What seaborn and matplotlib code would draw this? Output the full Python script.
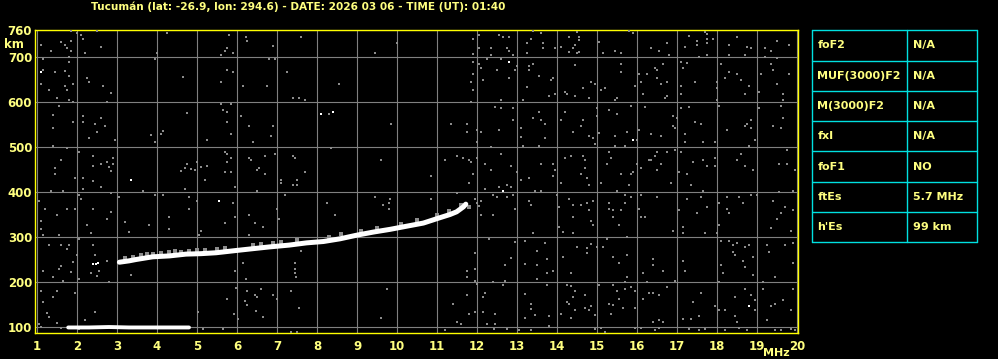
import matplotlib
matplotlib.use("Agg")
import matplotlib.pyplot as plt
import seaborn as sns
import pandas as pd

# ---------------- data ----------------
title = "Tucumán (lat: -26.9, lon: 294.6) - DATE: 2026 03 06 - TIME (UT): 01:40"

freq_ticks = list(range(1, 21))
km_ticks = [100, 200, 300, 400, 500, 600, 700, 760]

# F-layer trace (MHz, km)
f_freq = [3.06, 3.3, 3.475, 3.89, 4.31, 4.725, 5.1, 5.475, 5.975, 6.39, 6.81, 7.3,
          7.74, 8.16, 8.575, 8.99, 9.41, 9.825, 10.24, 10.66, 11.075, 11.325, 11.49,
          11.66, 11.72]
f_km = [244, 247, 250, 256, 258, 262, 263, 265, 270, 274, 278, 282,
        287, 290, 296, 304, 311, 317, 324, 331, 343, 350, 356,
        367, 373]

# Es trace
es_freq = [1.78, 2.3, 2.8, 3.3, 3.8, 4.3, 4.8]
es_km = [99, 99, 100, 99, 99, 99, 99]

# gray echoes just above the F trace
f_echo_points = [(3.2, 253), (3.4, 256), (3.6, 259), (3.75, 262), (3.9, 262), (4.1, 264),
                 (4.3, 266), (4.45, 268), (4.6, 267), (4.8, 270), (5.0, 271), (5.2, 272),
                 (5.5, 274), (5.7, 276), (6.4, 282), (6.6, 284), (6.9, 287), (7.1, 290),
                 (7.5, 293), (8.3, 301), (8.6, 306), (9.1, 313), (9.5, 319), (10.1, 330),
                 (10.5, 337), (11.0, 350), (11.3, 358), (11.6, 371), (11.8, 366)]

# isolated bright echoes
white_points = [(1.1, 666), (3.35, 427), (8.09, 573), (8.39, 578), (12.8, 689),
                (15.9, 516), (5.55, 381), (12.65, 403), (18.8, 147),
                (2.4, 240), (2.47, 241), (2.53, 243)]

# background noise echoes
noise_points = [
    (1.85,758),(1.99,754),(2.1,749),(2.14,740),(2.49,758),(1.1,727),(1.35,714),(1.6,734),(1.71,727),(1.74,721),
    (1.85,736),(1.85,714),(1.79,701),(1.79,689),(2.21,710),(2.6,723),(1.14,695),(1.16,671),(1.45,667),(1.7,670),
    (1.79,658),(1.1,641),(1.31,627),(1.71,636),(1.75,627),(1.89,640),(1.5,609),(1.81,604),(1.89,601),(2.24,654),
    (2.29,644),(2.64,636),(2.85,619),(2.74,601),(1.54,591),(1.39,571),(1.39,543),(1.89,556),(2.14,569),(2.14,556),
    (2.45,551),(2.6,564),(2.7,547),(2.5,534),(2.29,521),(2.95,516),(1.39,502),(1.74,498),(2.04,489),(1.6,471),
    (1.45,454),(1.45,440),(1.96,432),(2.14,432),(2.39,480),(2.39,458),(2.6,462),(2.75,467),(2.79,456),(2.85,447),
    (2.9,476),(2.9,462),(2.39,425),(3.99,708),(3.95,695),(4.24,754),(4.65,656),(4.75,576),(3.85,527),(3.95,511),
    (4.1,529),(4.15,536),(4.6,447),(4.7,454),(4.75,462),(4.85,452),(4.95,449),(5.0,467),(5.1,456),(5.25,458),
    (5.25,516),(5.2,427),(5.6,704),(5.7,714),(5.75,721),(5.9,710),(5.79,749),(5.75,671),(5.9,667),(5.6,644),
    (5.6,596),(5.65,582),(5.75,578),(5.85,596),(5.75,556),(5.85,529),(5.7,489),(5.75,484),(5.85,476),(5.75,467),
    (5.7,444),(5.85,444),(6.23,745),(6.25,736),(6.15,636),(6.1,569),(6.3,547),(6.4,511),(6.3,476),(6.35,471),
    (6.5,449),(6.55,453),(6.7,480),(6.7,440),(6.75,636),(6.9,725),(6.8,695),(6.95,695),(6.9,547),(6.85,524),
    (6.95,484),(7.25,667),(7.1,427),
    (7.6,745),(10.0,732),(9.45,710),(8.55,640),(7.39,609),(7.55,609),(7.7,604),(8.3,573),(9.84,551),(8.34,498),
    (7.39,480),(7.45,476),(7.7,444),(7.49,427),(9.59,471),(10.85,436),(11.2,471),(11.35,551),(11.5,480),(11.65,476),
    (11.8,471),(11.85,467),(11.75,551),(11.75,533),(12.0,538),(12.1,533),(12.0,511),(12.0,476),(11.9,440),(12.2,462),
    (12.35,501),(12.35,449),(12.6,484),(12.55,538),(12.85,458),(13.0,444),(13.1,427),(13.3,431),(13.6,462),(13.55,502),
    (13.15,502),(13.1,542),(12.9,560),(13.1,523),(13.4,564),(13.55,578),(13.6,560),(12.9,587),(12.6,587),(12.45,590),
    (12.6,604),(13.15,604),(11.85,601),(11.9,627),(11.85,644),(11.9,662),(11.9,689),(11.9,707),(11.9,740),(12.05,749),
    (12.05,719),(12.35,721),(12.35,704),(12.05,684),(12.1,676),(12.15,649),(12.25,696),(12.5,671),(12.6,696),(12.8,653),
    (12.95,671),(13.0,680),(12.55,749),(12.65,745),(12.8,745),(12.75,719),(12.8,714),(12.9,704),(13.25,732),(13.35,740),
    (13.4,758),(13.6,754),(13.65,732),(13.65,719),(13.25,710),(13.3,680),(13.4,684),(13.3,671),(13.55,658),(13.25,634),
    (14.49,756),(14.55,745),(14.55,738),(14.3,745),(14.1,723),(13.95,719),(14.45,727),(14.4,719),(14.3,712),(14.55,712),
    (14.5,708),(15.05,734),(15.15,710),(15.45,714),(15.6,710),(15.8,758),(15.9,754),(16.35,719),(16.55,714),(16.75,732),
    (16.8,705),(17.3,747),(17.2,723),(17.5,736),(17.5,727),(17.55,701),(17.7,756),(17.75,751),(17.75,741),(17.75,732),
    (17.9,741),(17.75,705),(18.5,745),(18.3,727),(18.3,705),(18.75,723),(18.7,705),(18.85,719),(19.2,719),(19.2,701),
    (19.35,714),(19.5,736),(19.8,727),(19.5,698),(14.45,683),(13.9,653),(13.85,649),(13.8,613),(13.95,618),(14.2,622),
    (14.25,618),(14.45,613),(14.65,631),(14.8,609),(14.85,644),(14.95,640),(15.1,627),(15.2,631),(15.45,604),(15.5,609),
    (15.6,667),(15.6,684),(15.95,636),(16.05,662),(16.1,644),(16.15,618),(16.25,662),(16.45,676),(16.5,671),(16.5,653),
    (16.6,640),(16.65,684),(16.75,644),(16.7,609),(16.75,613),(17.1,689),(17.15,676),(17.25,687),(17.1,636),(17.1,618),
    (17.45,644),(18.0,644),(18.0,631),(18.0,604),(18.1,684),(18.2,653),(18.3,667),(18.5,662),(18.6,649),(18.8,636),
    (18.7,618),(19.05,622),(19.1,662),(19.35,684),(19.4,671),(19.5,640),(19.65,618),(19.65,604),(19.8,662),(14.2,578),
    (14.1,560),(13.7,551),(13.7,520),(14.4,533),(14.6,547),(14.65,560),(14.8,524),(14.9,520),(14.95,507),(15.0,587),
    (15.0,569),(15.05,531),(15.3,582),(15.5,573),(15.45,524),(15.75,533),(15.45,502),(15.7,502),(15.85,591),(16.0,516),
    (16.05,538),(16.2,590),(16.35,529),(16.6,524),(16.9,569),(17.0,564),(16.95,542),(16.9,547),(17.1,587),(17.3,590),
    (17.45,556),(17.6,551),(17.2,529),(17.2,511),(17.65,511),(17.95,511),(18.05,591),(18.25,538),(18.7,547),(18.85,560),
    (18.75,551),(18.85,542),(18.95,516),(18.8,502),(19.05,587),(19.4,547),(19.6,591),(19.65,564),(19.6,542),(13.9,462),
    (13.95,449),(13.9,436),(14.2,476),(14.35,480),(14.65,480),(14.7,471),(14.7,453),(14.6,440),(14.75,431),(15.35,476),
    (15.3,489),(15.25,462),(15.6,440),(15.85,440),(15.9,444),(16.0,462),(16.1,453),(16.3,471),(16.35,471),(16.45,480),
    (16.5,489),(16.6,462),(16.75,489),(16.5,449),(16.95,493),(17.1,489),(17.05,444),(17.25,440),(17.4,467),(17.65,471),
    (17.75,458),(17.95,476),(17.95,458),(18.6,484),(18.5,471),(18.7,458),(18.9,449),(19.55,462),(19.75,462),(19.95,449),
    (19.75,493),
    (1.35,402),(1.65,402),(2.14,407),(2.6,411),(1.04,381),(2.04,394),(2.1,385),(2.85,398),(3.04,390),(3.64,402),
    (3.95,394),(4.14,394),(4.7,407),(4.81,390),(5.9,376),(5.95,411),(6.5,402),(7.1,420),(7.2,394),(1.2,363),
    (1.49,348),(1.75,363),(1.94,363),(2.39,363),(2.85,356),(2.75,341),(2.25,327),(2.35,310),(1.1,336),(1.1,318),
    (1.16,304),(1.54,305),(3.29,311),(3.2,333),(3.8,326),(4.29,345),(4.29,318),(4.8,363),(5.0,381),(5.1,314),
    (5.05,305),(5.7,332),(5.95,345),(6.3,350),(6.45,332),(6.3,305),(6.65,323),(7.0,363),(7.05,341),(1.29,283),
    (1.6,283),(1.79,283),(1.75,274),(2.04,296),(1.99,261),(2.39,283),(2.44,261),(1.89,244),(1.54,230),(1.6,236),
    (1.14,225),(1.39,212),(1.64,203),(1.85,222),(2.04,207),(2.35,221),(2.56,225),(2.5,213),(2.75,246),(2.8,199),
    (3.35,216),(5.94,225),(6.14,243),(6.23,207),(5.98,187),(6.25,181),(6.45,172),(6.5,167),(6.6,185),(6.9,172),
    (7.0,163),(6.2,157),(6.24,148),(5.75,163),(6.48,136),(6.65,122),(5.93,130),(6.03,118),(1.09,181),(1.49,181),
    (1.39,167),(1.96,176),(1.14,156),(1.24,132),(1.29,123),(2.44,133),(2.2,115),(2.04,96),(1.49,110),(1.6,98),
    (1.04,107),(1.09,100),(5.02,133),(5.64,96),(5.14,96),
    (7.39,416),(7.49,416),(9.44,390),(9.83,385),(9.79,376),(9.64,372),(9.79,363),(8.24,376),(8.45,350),(10.85,385),
    (11.5,398),(11.8,419),(11.95,385),(12.0,376),(12.05,370),(12.1,381),(12.2,407),(12.4,394),(12.5,390),(12.55,411),
    (12.75,416),(12.85,411),(12.75,390),(12.9,394),(12.1,350),(12.4,350),(12.95,363),(13.3,381),(13.35,372),(13.45,403),
    (13.6,403),(13.4,310),(13.2,292),(12.95,289),(12.3,296),(13.5,270),(13.5,238),(13.2,241),(12.85,253),(12.7,238),
    (11.95,265),(11.95,230),(11.75,225),(11.75,212),(11.95,203),(12.0,196),(12.2,176),(12.15,167),(12.4,199),(12.65,194),
    (12.7,203),(13.5,207),(13.2,173),(13.35,151),(13.35,141),(13.2,120),(13.45,126),(7.44,243),(7.44,228),(7.44,221),
    (7.475,212),(7.59,270),(7.36,181),(7.54,142),(9.74,185),(9.59,120),(11.39,152),(11.74,172),(11.95,133),(11.8,129),
    (11.6,107),(12.15,133),(12.25,107),(12.45,129),(12.45,107),(11.2,93),(11.49,111),(12.75,96),(13.05,93),(13.35,93),
    (12.42,96),(7.36,89),(7.49,89),
    (14.09,419),(14.8,415),(15.09,419),(15.8,415),(15.5,403),(16.84,420),(17.35,415),(17.65,403),(14.0,394),(14.05,367),
    (14.3,385),(14.4,372),(14.6,372),(14.75,376),(14.9,381),(14.4,345),(14.8,359),(14.85,336),(14.9,327),(14.15,311),
    (14.4,310),(14.05,323),(15.3,376),(15.3,363),(15.4,359),(15.6,359),(15.7,394),(15.7,376),(15.85,390),(15.4,345),
    (15.55,326),(16.1,394),(16.1,345),(16.2,345),(16.5,390),(16.05,363),(16.9,314),(17.15,323),(17.15,310),(17.05,359),
    (17.25,385),(17.5,354),(17.6,390),(17.75,367),(17.7,310),(18.0,310),(18.05,376),(18.05,327),(18.25,390),(18.3,354),
    (18.25,363),(18.55,390),(18.65,376),(18.85,394),(19.0,394),(19.4,381),(19.7,367),(19.6,354),(19.5,341),(19.35,319),
    (19.85,314),(19.9,359),(19.55,399),(19.9,403),(13.7,287),(13.75,252),(13.75,221),(13.9,225),(14.15,256),(14.35,221),
    (14.5,278),(14.75,276),(14.85,284),(14.75,265),(15.0,278),(15.15,278),(15.25,295),(15.75,301),(15.4,256),(15.55,243),
    (15.75,261),(15.75,212),(16.15,221),(16.4,252),(16.4,238),(16.65,225),(16.95,203),(17.15,247),(17.2,225),(18.1,292),
    (18.3,292),(18.4,283),(18.4,267),(18.5,287),(18.7,278),(18.8,283),(18.45,261),(18.65,247),(18.7,234),(18.1,238),
    (18.15,221),(18.9,256),(18.9,216),(19.25,283),(19.3,267),(19.45,212),(19.7,283),(19.9,287),(19.9,243),(13.75,194),
    (14.25,194),(14.35,191),(14.45,181),(14.4,167),(14.7,172),(14.25,156),(14.3,151),(14.45,138),(14.7,142),(14.8,138),
    (14.85,147),(14.95,127),(14.35,120),(13.8,124),(13.8,102),(14.1,129),(15.05,194),(15.4,194),(15.5,181),(15.7,199),
    (15.7,185),(15.85,190),(15.95,181),(15.55,163),(15.3,151),(15.4,148),(15.65,142),(15.95,142),(15.35,129),(16.15,163),
    (16.3,176),(16.4,176),(16.55,172),(16.75,190),(16.65,111),(16.4,111),(16.55,116),(16.25,199),(17.15,118),(17.35,118),
    (17.4,156),(17.6,176),(17.55,124),(17.95,147),(18.05,138),(18.2,138),(18.05,199),(18.45,167),(18.45,124),(18.5,111),
    (18.7,185),(18.95,138),(18.85,172),(18.95,161),(19.15,199),(19.15,185),(19.25,116),(19.35,147),(19.45,151),(19.65,161),
    (19.9,185),(19.85,138),(14.95,96),(15.1,98),(15.2,89),(15.95,98),(16.1,98),(16.45,93),(16.55,98),(17.3,96),
    (17.55,93),(17.7,96),(18.2,93),(18.55,98),(18.75,93),(19.45,93),(19.6,93),(19.85,96),(19.95,93),
]

table_labels = ["foF2", "MUF(3000)F2", "M(3000)F2", "fxI", "foF1", "ftEs", "h'Es"]
table_values = ["N/A", "N/A", "N/A", "N/A", "NO", "5.7 MHz", "99 km"]

# ---------------- style ----------------
YEL = "#FFFF00"
TXT = "#FFFF80"
GRID = "#808080"
NOISE = "#8c8c8c"
CYAN = "#00E0E0"

sns.set_style("dark", rc={"axes.facecolor": "black", "figure.facecolor": "black",
                          "axes.edgecolor": YEL, "grid.color": GRID})
plt.rcParams["font.family"] = ["DejaVu Sans"]
plt.rcParams["font.weight"] = "bold"

DPI = 100
W, H = 998, 359
fig = plt.figure(figsize=(W / DPI, H / DPI), dpi=DPI)
fig.patch.set_facecolor("black")

# main axes: x 35..798 px, y 30..333 px
ax = fig.add_axes([35 / W, (H - 333) / H, (798 - 35) / W, (333 - 30) / H])
ax.set_facecolor("black")
ax.set_xlim(0.95, 20.025)
ax.set_ylim(86.7, 760)

noise_df = pd.DataFrame(noise_points, columns=["freq", "km"])
echo_df = pd.DataFrame(f_echo_points, columns=["freq", "km"])
white_df = pd.DataFrame(white_points, columns=["freq", "km"])
f_df = pd.DataFrame({"freq": f_freq, "km": f_km})
es_df = pd.DataFrame({"freq": es_freq, "km": es_km})

sns.scatterplot(data=noise_df, x="freq", y="km", ax=ax, marker="s", s=3.2,
                color=NOISE, linewidth=0, zorder=3)
sns.scatterplot(data=echo_df, x="freq", y="km", ax=ax, marker="s", s=5,
                color=NOISE, linewidth=0, zorder=3)
sns.lineplot(data=f_df, x="freq", y="km", ax=ax, color="white", linewidth=3.6,
             sort=False, zorder=5)
sns.lineplot(data=es_df, x="freq", y="km", ax=ax, color="white", linewidth=2.8,
             sort=False, zorder=5)
sns.scatterplot(data=white_df, x="freq", y="km", ax=ax, marker="s", s=4,
                color="white", linewidth=0, zorder=6)

ax.set_xticks(freq_ticks)
ax.set_xticklabels([str(v) for v in freq_ticks])
ax.set_yticks(km_ticks)
ax.set_yticklabels([str(v) for v in km_ticks])
ax.tick_params(axis="both", length=0, colors=TXT, labelsize=8.5)
ax.tick_params(axis="x", pad=5)
ax.tick_params(axis="y", pad=2)
for lbl in ax.get_xticklabels() + ax.get_yticklabels():
    lbl.set_fontweight("bold")
ax.grid(True, color=GRID, linewidth=0.8)
ax.set_axisbelow(True)
for sp in ax.spines.values():
    sp.set_color(YEL)
    sp.set_linewidth(1.0)
    sp.set_visible(True)
ax.set_xlabel("")
ax.set_ylabel("")

# overlay in pixel coordinates for text and the parameter table
ov = fig.add_axes([0, 0, 1, 1])
ov.set_xlim(0, W)
ov.set_ylim(H, 0)
ov.axis("off")
ov.patch.set_visible(False)

ov.text(91, 7, title, color=TXT, fontsize=7.6, fontweight="bold", ha="left", va="center")
ov.text(14, 45, "km", color=TXT, fontsize=8.5, fontweight="bold", ha="center", va="center")
ov.text(776, 353, "MHz", color=TXT, fontsize=8, fontweight="bold", ha="center", va="center")

tx0, tx1, txm = 812.3, 977.3, 907.3
ty0, ty1 = 30.3, 242.3
n = len(table_labels)
rh = (ty1 - ty0) / n
for i in range(n + 1):
    yy = ty0 + i * rh
    ov.plot([tx0, tx1], [yy, yy], color=CYAN, linewidth=1.0)
for xx in (tx0, txm, tx1):
    ov.plot([xx, xx], [ty0, ty1], color=CYAN, linewidth=1.0)
for i, (lab, val) in enumerate(zip(table_labels, table_values)):
    yc = ty0 + (i + 0.5) * rh
    ov.text(817.5, yc, lab, color=TXT, fontsize=8, fontweight="bold", ha="left", va="center")
    ov.text(913, yc, val, color=TXT, fontsize=8, fontweight="bold", ha="left", va="center")

fig.savefig("out.png", dpi=DPI, facecolor="black")
